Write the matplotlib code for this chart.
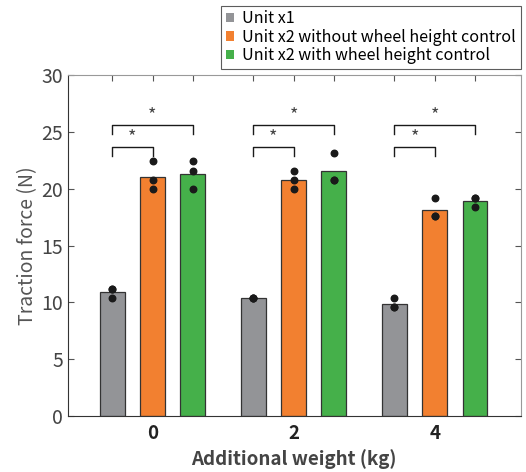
import matplotlib
matplotlib.use('Agg')
import matplotlib.pyplot as plt
import numpy as np

plt.rcParams['font.family'] = ['Noto Sans CJK JP', 'DejaVu Sans']

# data
weights = ['0', '2', '4']
series = ['Unit x1', 'Unit x2 without wheel height control', 'Unit x2 with wheel height control']
colors = ['#939497', '#F28030', '#45B04A']
# individual trials (N), per series per weight
unit1 = [[11.15, 11.15, 10.4], [10.4, 10.4, 10.4], [10.35, 9.55, 9.55]]
unit2_off = [[22.4, 20.75, 19.95], [21.55, 20.75, 19.95], [19.2, 17.6, 17.6]]
unit2_on = [[22.4, 21.55, 19.95], [23.15, 20.75, 20.75], [19.2, 19.2, 18.4]]
trials = [unit1, unit2_off, unit2_on]

centers = np.array([1.0, 2.0, 3.0])
offset = 0.285
width = 0.175

fig = plt.figure(figsize=(5.26, 4.72), dpi=100)
ax = fig.add_axes([0.129, 0.1186, 0.861, 0.7225])

xpos_all = []
handles = []
for i, (tr, c, name) in enumerate(zip(trials, colors, series)):
    xs = centers + (i - 1) * offset
    means = [np.mean(t) for t in tr]
    h = ax.bar(xs, means, width=width, color=c, edgecolor='#333333', linewidth=0.9, label=name, zorder=2)
    handles.append(h)
    for x, t in zip(xs, tr):
        ax.scatter([x] * len(t), t, s=22, color='#1a1a1a', zorder=3)
    xpos_all.extend(xs)

# significance brackets
def bracket(x1, x2, y, h=0.8):
    ax.plot([x1, x1, x2, x2], [y - h, y, y, y - h], color='#1a1a1a', lw=1.0, zorder=3)
    ax.text((x1 + x2) / 2, y + 0.05, '*', ha='center', va='bottom', fontsize=13, color='#444444')

for c in centers:
    bracket(c - offset, c, 23.7)
    bracket(c - offset, c + offset, 25.6)

ax.set_xlim(0.4, 3.61)
ax.set_ylim(0, 30)
xt = sorted(xpos_all)
ax.set_xticks(xt)
ax.set_xticklabels(['' if k % 3 != 1 else weights[k // 3] for k in range(len(xt))],
                   fontsize=13.5, fontweight='bold', color='#222222')
ax.set_yticks(np.arange(0, 31, 5))
ax.tick_params(axis='y', labelsize=14, labelcolor='#444444')
ax.tick_params(direction='in', top=True, right=True, length=4, color='#555555', width=0.8)
ax.tick_params(axis='x', pad=6)
for s in ['left', 'bottom']:
    ax.spines[s].set_color('#333333')
for s in ['top', 'right']:
    ax.spines[s].set_color('#999999')

ax.set_xlabel('Additional weight (kg)', fontsize=13.5, fontweight='bold', color='#444444', labelpad=4)
ax.set_ylabel('Traction force (N)', fontsize=14, color='#555555', labelpad=2)

leg = ax.legend(handles=handles, loc='lower right', bbox_to_anchor=(1.0, 1.018), fontsize=11.6,
                frameon=True, fancybox=False, edgecolor='#333333', handlelength=0.5, handleheight=0.5,
                handletextpad=0.5, borderpad=0.3, labelspacing=0.08, borderaxespad=0)
leg.get_frame().set_linewidth(0.8)
for p in leg.get_patches():
    p.set_edgecolor('none')

fig.savefig('out.png', dpi=100)
